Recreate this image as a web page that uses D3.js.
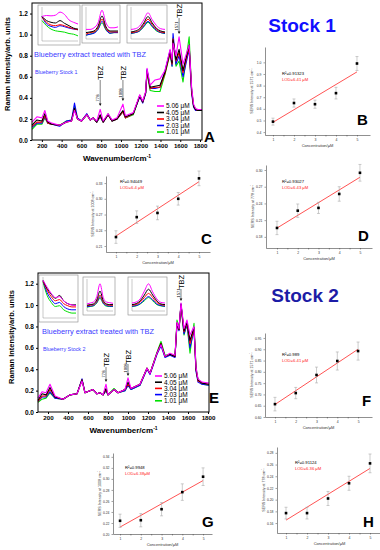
<!DOCTYPE html>
<html>
<head>
<meta charset="utf-8">
<script src="https://cdn.jsdelivr.net/npm/d3@7"></script>
<style>
  body { margin: 0; background: #fff; }
  svg { display: block; font-family: Arial, "Liberation Sans", sans-serif; }
</style>
</head>
<body>
<svg id="fig" width="380" height="550"></svg>
<script>
// ---- data ----
var concLabels = ["5.06 \u03bcM", "4.05 \u03bcM", "3.04 \u03bcM", "2.03 \u03bcM", "1.01 \u03bcM"];
var seriesColors = ["#ff00ff", "#000000", "#ff0000", "#0000ff", "#00e000"];
var wnTicks = [200, 400, 600, 800, 1000, 1200, 1400, 1600, 1800];
var intTicks = [0.0, 0.2, 0.4, 0.6, 0.8, 1.0, 1.2];

// stock 1 spectra (panel A)
var wnA = [100,150,200,230,260,300,380,450,500,530,560,600,655,690,720,755,790,820,870,910,960,1020,1045,1125,1190,1220,1250,1264,1295,1345,1395,1445,1497,1517,1527,1557,1588,1628,1690,1715,1735,1755,1780,1820];
var a506 = [0.17,0.22,0.21,0.28,0.18,0.16,0.14,0.17,0.18,0.28,0.20,0.18,0.24,0.19,0.21,0.18,0.29,0.18,0.25,0.19,0.21,0.34,0.23,0.26,0.43,0.37,0.46,0.68,0.52,0.57,0.58,0.66,0.86,0.76,0.92,0.80,0.98,0.72,0.90,0.50,0.34,0.30,0.29,0.29];
var a405 = [0.14,0.19,0.18,0.25,0.17,0.15,0.14,0.17,0.18,0.30,0.20,0.18,0.24,0.19,0.21,0.17,0.24,0.17,0.24,0.18,0.20,0.28,0.22,0.25,0.42,0.36,0.45,0.66,0.50,0.51,0.52,0.64,0.84,0.73,0.95,0.76,0.86,0.66,0.90,0.48,0.32,0.29,0.28,0.28];
var a304 = [0.13,0.17,0.17,0.23,0.16,0.15,0.14,0.17,0.18,0.30,0.20,0.18,0.24,0.19,0.21,0.17,0.23,0.17,0.24,0.18,0.20,0.27,0.21,0.25,0.42,0.36,0.45,0.65,0.49,0.50,0.50,0.63,0.83,0.72,0.96,0.75,0.83,0.64,0.88,0.46,0.32,0.29,0.28,0.28];
var a203 = [0.12,0.16,0.16,0.22,0.16,0.15,0.13,0.18,0.19,0.35,0.21,0.18,0.25,0.19,0.21,0.17,0.22,0.17,0.24,0.18,0.20,0.27,0.21,0.25,0.41,0.35,0.44,0.67,0.49,0.49,0.50,0.65,0.85,0.70,1.01,0.72,0.80,0.60,0.86,0.44,0.31,0.28,0.28,0.28];
var a101 = [0.10,0.15,0.15,0.21,0.16,0.15,0.14,0.18,0.19,0.31,0.20,0.18,0.24,0.19,0.21,0.17,0.22,0.17,0.25,0.18,0.20,0.27,0.21,0.24,0.42,0.36,0.45,0.63,0.47,0.46,0.46,0.62,0.82,0.70,0.97,0.70,0.75,0.55,0.98,0.47,0.33,0.29,0.28,0.28];

// stock 2 spectra (panel E)
var wnE = [100,140,180,220,270,350,420,490,540,570,650,690,720,750,780,800,860,900,970,1000,1030,1120,1190,1220,1290,1330,1370,1420,1470,1490,1510,1530,1560,1590,1620,1660,1680,1700,1740,1810];
var e506 = [0.13,0.19,0.18,0.26,0.15,0.12,0.16,0.17,0.29,0.18,0.21,0.17,0.18,0.16,0.26,0.16,0.21,0.18,0.21,0.32,0.22,0.26,0.41,0.36,0.55,0.63,0.52,0.55,0.53,0.84,0.78,1.02,0.78,0.86,0.72,0.80,0.42,0.31,0.28,0.27];
var e405 = [0.11,0.17,0.16,0.23,0.14,0.12,0.16,0.17,0.30,0.18,0.21,0.17,0.18,0.16,0.22,0.16,0.21,0.18,0.21,0.28,0.22,0.26,0.41,0.36,0.55,0.64,0.52,0.54,0.52,0.83,0.77,1.01,0.76,0.84,0.67,0.79,0.40,0.30,0.27,0.26];
var e304 = [0.10,0.15,0.15,0.21,0.14,0.12,0.16,0.17,0.30,0.18,0.21,0.17,0.18,0.16,0.21,0.16,0.21,0.18,0.21,0.26,0.22,0.26,0.41,0.36,0.55,0.64,0.52,0.54,0.52,0.83,0.77,1.00,0.75,0.83,0.64,0.78,0.40,0.29,0.27,0.26];
var e203 = [0.10,0.14,0.14,0.19,0.13,0.12,0.16,0.17,0.31,0.18,0.21,0.17,0.18,0.16,0.20,0.16,0.21,0.18,0.20,0.25,0.21,0.25,0.40,0.35,0.54,0.62,0.51,0.53,0.51,0.82,0.76,1.01,0.73,0.82,0.60,0.77,0.38,0.28,0.26,0.25];
var e101 = [0.09,0.12,0.13,0.18,0.13,0.12,0.16,0.17,0.30,0.18,0.21,0.17,0.18,0.16,0.20,0.16,0.22,0.18,0.20,0.25,0.21,0.25,0.41,0.36,0.56,0.66,0.53,0.54,0.52,0.86,0.79,1.00,0.72,0.82,0.55,0.83,0.42,0.30,0.26,0.25];

// zoomed insets (relative intensity, 9 points each, order 5.06 -> 1.01)
var insetA1 = [[0.72,0.75,0.74,0.76,0.85,0.78,0.62,0.55,0.50],[0.72,0.60,0.55,0.53,0.60,0.52,0.45,0.38,0.35],[0.70,0.55,0.47,0.45,0.48,0.45,0.40,0.36,0.33],[0.72,0.50,0.43,0.40,0.45,0.42,0.38,0.35,0.33],[0.60,0.45,0.35,0.30,0.28,0.26,0.22,0.20,0.15]];
var insetA2 = [[0.30,0.30,0.35,0.50,0.90,0.50,0.35,0.35,0.38],[0.20,0.22,0.25,0.40,0.72,0.38,0.25,0.25,0.25],[0.15,0.20,0.22,0.35,0.62,0.33,0.22,0.22,0.22],[0.12,0.15,0.18,0.30,0.55,0.30,0.18,0.20,0.20],[0.12,0.15,0.20,0.30,0.50,0.28,0.18,0.20,0.20]];
var insetA3 = [[0.30,0.32,0.40,0.60,0.82,0.60,0.42,0.32,0.30],[0.22,0.25,0.32,0.50,0.70,0.50,0.33,0.25,0.22],[0.20,0.22,0.28,0.45,0.62,0.45,0.30,0.22,0.20],[0.18,0.20,0.25,0.40,0.55,0.40,0.27,0.20,0.18],[0.17,0.20,0.25,0.38,0.52,0.38,0.25,0.20,0.17]];
var insetE1 = [[0.92,0.75,0.60,0.50,0.52,0.42,0.35,0.32,0.30],[0.92,0.72,0.58,0.48,0.55,0.42,0.35,0.32,0.32],[0.90,0.68,0.52,0.42,0.45,0.35,0.30,0.27,0.27],[0.90,0.62,0.45,0.35,0.38,0.28,0.22,0.20,0.20],[0.88,0.55,0.38,0.28,0.30,0.20,0.15,0.12,0.12]];
var insetE2 = [[0.22,0.25,0.28,0.45,0.85,0.42,0.28,0.26,0.24],[0.18,0.2,0.22,0.35,0.62,0.33,0.22,0.2,0.2],[0.16,0.18,0.2,0.3,0.5,0.28,0.2,0.18,0.18],[0.14,0.15,0.17,0.27,0.45,0.25,0.17,0.15,0.15],[0.12,0.14,0.16,0.25,0.4,0.23,0.15,0.14,0.14]];
var insetE3 = [[0.25,0.28,0.38,0.62,0.85,0.6,0.38,0.27,0.25],[0.2,0.23,0.32,0.5,0.68,0.5,0.32,0.22,0.2],[0.18,0.2,0.28,0.42,0.55,0.42,0.27,0.2,0.18],[0.15,0.17,0.23,0.35,0.45,0.35,0.22,0.17,0.15],[0.14,0.16,0.22,0.32,0.42,0.32,0.2,0.16,0.14]];
var insetX = [0, 1, 2, 3, 4, 5, 6, 7, 8];

// calibration points
var conc = [1, 2, 3, 4, 5];
var bVals = [0.49, 0.65, 0.64, 0.735, 0.99], bErr = [0.03, 0.035, 0.035, 0.05, 0.06];
var cVals = [0.227, 0.265, 0.273, 0.300, 0.339], cErr = [0.012, 0.012, 0.013, 0.012, 0.014];
var dVals = [0.196, 0.227, 0.232, 0.257, 0.295], dErr = [0.012, 0.012, 0.010, 0.013, 0.015];
var fVals = [0.657, 0.706, 0.786, 0.848, 0.892], fErr = [0.03, 0.025, 0.035, 0.04, 0.04];
var gVals = [0.224, 0.225, 0.245, 0.276, 0.304], gErr = [0.012, 0.012, 0.012, 0.015, 0.016];
var hVals = [0.177, 0.177, 0.202, 0.228, 0.262], hErr = [0.010, 0.010, 0.012, 0.012, 0.016];
var bTicks = [0.4, 0.5, 0.6, 0.7, 0.8, 0.9, 1.0];
var cTicks = [0.21, 0.24, 0.27, 0.30, 0.33];
var dTicks = [0.18, 0.21, 0.24, 0.27, 0.30];
var fTicks = [0.60, 0.65, 0.70, 0.75, 0.80, 0.85, 0.90, 0.95];
var gTicks = [0.20, 0.22, 0.24, 0.26, 0.28, 0.30, 0.32, 0.34];
var hTicks = [0.16, 0.18, 0.20, 0.22, 0.24, 0.26, 0.28];

var svg = d3.select("svg#fig");

function drawSpectrum(p) {
    var x = d3.scaleLinear().domain(p.xDomain).range([p.left, p.right]),
        y = d3.scaleLinear().domain([0, 1.3]).range([p.bottom, p.top]),
        g = svg.append("g");

    var xa = g.append("g")
        .attr("transform", "translate(0," + p.bottom + ")")
        .call(d3.axisBottom(x).tickValues(wnTicks).tickSize(2).tickPadding(2).tickSizeOuter(0)
            .tickFormat(d3.format("d")));
    xa.selectAll("text").style("font", "bold 6.2px Arial");
    var ya = g.append("g")
        .attr("transform", "translate(" + p.left + ",0)")
        .call(d3.axisLeft(y).tickValues(intTicks).tickSize(2).tickPadding(2).tickSizeOuter(0).tickFormat(d3.format(".1f")));
    ya.selectAll("text").style("font", "bold 6.5px Arial");
    g.selectAll(".domain").remove();

    var line = d3.line()
        .x(function (d, i) { return x(p.wn[i]); })
        .y(function (d) { return y(d); });

    p.series.slice().reverse().forEach(function (s, k) {
        g.append("path")
            .attr("d", line(s))
            .attr("fill", "none")
            .attr("stroke", seriesColors[4 - k])
            .attr("stroke-width", 1.1)
            .attr("stroke-linejoin", "round");
    });

    g.append("rect")
        .attr("x", p.left).attr("y", p.top)
        .attr("width", p.right - p.left).attr("height", p.bottom - p.top)
        .attr("fill", "none").attr("stroke", "#000").attr("stroke-width", 1);

    // insets
    p.insets.forEach(function (ins) {
        var ig = g.append("g");
        ig.append("rect")
            .attr("x", ins.box[0]).attr("y", ins.box[2])
            .attr("width", ins.box[1] - ins.box[0]).attr("height", ins.box[3] - ins.box[2])
            .attr("fill", "#fff").attr("stroke", "#888").attr("stroke-width", 0.6);
        var ix = d3.scaleLinear().domain([0, 8]).range([ins.box[0] + 4, ins.box[1] - 2]),
            iy = d3.scaleLinear().domain([0, 1]).range([ins.box[3] - 4, ins.box[2] + 2]);
        ig.append("line")
            .attr("x1", ix(0)).attr("x2", ix(0)).attr("y1", iy(0)).attr("y2", iy(1))
            .attr("stroke", "#777").attr("stroke-width", 0.4);
        ig.append("line")
            .attr("x1", ix(0)).attr("x2", ix(8)).attr("y1", iy(0)).attr("y2", iy(0))
            .attr("stroke", "#777").attr("stroke-width", 0.4);
        var il = d3.line().curve(d3.curveMonotoneX)
            .x(function (d, i) { return ix(insetX[i]); })
            .y(function (d) { return iy(d); });
        ins.data.slice().reverse().forEach(function (s, k) {
            ig.append("path").attr("d", il(s)).attr("fill", "none")
                .attr("stroke", seriesColors[4 - k]).attr("stroke-width", 1);
        });
    });

    // captions
    g.append("text").attr("x", p.capX).attr("y", p.capY)
        .attr("fill", "#3a3aff").style("font", "7.4px Arial")
        .text("Blueberry extract treated with TBZ");
    g.append("text").attr("x", p.capX + 1).attr("y", p.capY + 17)
        .attr("fill", "#3a3aff").style("font", "5.4px Arial")
        .text(p.stockText);

    // TBZ arrows
    p.marks.forEach(function (m) {
        var mx = x(m.wn);
        g.append("line").attr("x1", mx).attr("x2", mx).attr("y1", m.y1).attr("y2", m.y2 - 2)
            .attr("stroke", "#000").attr("stroke-width", 0.5);
        g.append("path")
            .attr("d", "M" + (mx - 1.3) + "," + (m.y2 - 2.5) + "L" + (mx + 1.3) + "," + (m.y2 - 2.5) + "L" + mx + "," + m.y2 + "Z")
            .attr("fill", "#000");
        g.append("text")
            .attr("transform", "translate(" + (mx + 2.6) + "," + (m.y1 - 7) + ") rotate(-90)")
            .attr("text-anchor", "middle").style("font", "7.5px Arial")
            .text("TBZ");
        g.append("text")
            .attr("transform", "translate(" + (mx - 1.2) + "," + (m.y2 - 8) + ") rotate(-90)")
            .attr("text-anchor", "middle").style("font", "4.2px Arial")
            .text(m.label);
    });

    // legend
    concLabels.forEach(function (c, i) {
        var ly = p.legY + i * p.legStep;
        g.append("line").attr("x1", p.legX).attr("x2", p.legX + 7).attr("y1", ly).attr("y2", ly)
            .attr("stroke", seriesColors[i]).attr("stroke-width", 1.6);
        g.append("text").attr("x", p.legX + 9).attr("y", ly + 2.3)
            .style("font", "6.5px Arial").text(c);
    });

    // axis titles and panel letter
    var xt = g.append("text").attr("x", (p.left + p.right) / 2).attr("y", p.bottom + 21)
        .attr("text-anchor", "middle").style("font", "bold 8px Arial").text("Wavenumber/cm");
    xt.append("tspan").attr("dy", -3).style("font-size", "5px").text("-1");
    g.append("text")
        .attr("transform", "translate(" + p.yLabX + "," + p.yLabY + ") rotate(-90)")
        .attr("text-anchor", "middle").style("font", "bold 7.5px Arial")
        .text("Raman Intensity/arb. units");
    g.append("text").attr("x", p.letX).attr("y", p.letY)
        .style("font", "bold 15px Arial").text(p.letter);
}

function drawCalib(p) {
    var x = d3.scaleLinear().domain(p.xDomain).range([p.x0, p.x1]),
        y = d3.scaleLinear().domain(p.yDomain).range([p.y0, p.y1]),
        g = svg.append("g");

    var xa = g.append("g").attr("transform", "translate(0," + p.y0 + ")")
        .call(d3.axisBottom(x).tickValues([1, 1.5, 2, 2.5, 3, 3.5, 4, 4.5, 5])
            .tickSize(1.5).tickPadding(2).tickSizeOuter(0)
            .tickFormat(function (d) { return d % 1 === 0 ? d : ""; }));
    var ya = g.append("g").attr("transform", "translate(" + p.x0 + ",0)")
        .call(d3.axisLeft(y).tickValues(p.ticks).tickSize(1.5).tickPadding(2).tickSizeOuter(0)
            .tickFormat(d3.format(p.fmt)));
    g.selectAll(".domain").attr("stroke", "#444").attr("stroke-width", 0.6);
    g.selectAll(".tick line").attr("stroke", "#444").attr("stroke-width", 0.5);
    g.selectAll(".tick text").style("font", "3.4px Arial").attr("fill", "#333");

    // least squares line
    var mx = d3.mean(conc), my = d3.mean(p.vals),
        slope = d3.sum(conc, function (c, i) { return (c - mx) * (p.vals[i] - my); }) /
                d3.sum(conc, function (c) { return (c - mx) * (c - mx); }),
        icpt = my - slope * mx;
    g.append("line")
        .attr("x1", x(1)).attr("y1", y(icpt + slope))
        .attr("x2", x(5)).attr("y2", y(icpt + slope * 5))
        .attr("stroke", "#ff4040").attr("stroke-width", 0.9);

    conc.forEach(function (c, i) {
        var cx = x(c), lo = y(p.vals[i] - p.err[i]), hi = y(p.vals[i] + p.err[i]);
        g.append("line").attr("x1", cx).attr("x2", cx).attr("y1", lo).attr("y2", hi)
            .attr("stroke", "#aaa").attr("stroke-width", 0.6);
        [lo, hi].forEach(function (yy) {
            g.append("line").attr("x1", cx - 1.5).attr("x2", cx + 1.5).attr("y1", yy).attr("y2", yy)
                .attr("stroke", "#aaa").attr("stroke-width", 0.6);
        });
        g.append("rect").attr("x", cx - 1.3).attr("y", y(p.vals[i]) - 1.3)
            .attr("width", 2.6).attr("height", 2.6).attr("fill", "#000");
    });

    g.append("text").attr("x", p.tx).attr("y", p.ty).style("font", "4.2px Arial").text(p.r2);
    g.append("text").attr("x", p.tx).attr("y", p.ty + 5.5).attr("fill", "#ff2020")
        .style("font", "4.2px Arial").text(p.lod);
    g.append("text").attr("x", (p.x0 + p.x1) / 2).attr("y", p.y0 + 12)
        .attr("text-anchor", "middle").attr("fill", "#333").style("font", "4px Arial")
        .text("Concentration/\u03bcM");
    var yl = g.append("text")
        .attr("transform", "translate(" + (p.x0 - 12) + "," + ((p.y0 + p.y1) / 2) + ") rotate(-90)")
        .attr("text-anchor", "middle").attr("fill", "#333").style("font", "3.6px Arial")
        .text(p.yLabel);
    yl.append("tspan").attr("dy", -1.2).style("font-size", "2.6px").text("-1");
    g.append("text").attr("x", p.letX).attr("y", p.letY)
        .style("font", "bold 15px Arial").text(p.letter);
}

drawSpectrum({
    xDomain: [100, 1820], left: 32, right: 202, top: 3, bottom: 140,
    wn: wnA, series: [a506, a405, a304, a203, a101],
    insets: [
        { box: [38, 80, 5, 45], data: insetA1 },
        { box: [82, 120, 5, 43], data: insetA2 },
        { box: [127, 167, 5, 43], data: insetA3 }
    ],
    capX: 34, capY: 57, stockText: "Blueberry Stock 1",
    marks: [
        { wn: 790, label: "778", y1: 80, y2: 106 },
        { wn: 1020, label: "1008", y1: 80, y2: 101 },
        { wn: 1588, label: "1571", y1: 18, y2: 34 }
    ],
    legX: 157, legY: 106, legStep: 6.5,
    yLabX: 10, yLabY: 64, letX: 204, letY: 142, letter: "A"
});

drawSpectrum({
    xDomain: [100, 1810], left: 38, right: 209, top: 273, bottom: 412,
    wn: wnE, series: [e506, e405, e304, e203, e101],
    insets: [
        { box: [39, 78, 275, 322], data: insetE1 },
        { box: [83, 115, 277, 315], data: insetE2 },
        { box: [128, 167, 277, 315], data: insetE3 }
    ],
    capX: 42, capY: 334, stockText: "Blueberry Stock 2",
    marks: [
        { wn: 780, label: "778", y1: 367, y2: 382 },
        { wn: 1000, label: "1008", y1: 364, y2: 376 },
        { wn: 1530, label: "1571", y1: 289, y2: 301 }
    ],
    legX: 155, legY: 376, legStep: 6.2,
    yLabX: 14, yLabY: 337, letX: 209, letY: 403, letter: "E"
});

var calibPanels = [
    { letter: "B", x0: 265, x1: 370, xDomain: [0.62, 5.62], y0: 135, y1: 47, yDomain: [0.375, 1.132],
      vals: bVals, err: bErr, ticks: bTicks, fmt: ".1f", tx: 282, ty: 75,
      r2: "R\u00b2=0.91323", lod: "LOD=6.41 \u03bcM", yLabel: "SERS Intensity at 1571 cm", letX: 357, letY: 125 },
    { letter: "C", x0: 106, x1: 210, xDomain: [0.52, 5.53], y0: 252, y1: 176, yDomain: [0.1985, 0.3435],
      vals: cVals, err: cErr, ticks: cTicks, fmt: ".2f", tx: 120, ty: 183,
      r2: "R\u00b2=0.94049", lod: "LOD=6.4 \u03bcM", yLabel: "SERS Intensity at 1008 cm", letX: 201, letY: 244 },
    { letter: "D", x0: 266, x1: 372, xDomain: [0.47, 5.58], y0: 248, y1: 165, yDomain: [0.160, 0.309],
      vals: dVals, err: dErr, ticks: dTicks, fmt: ".2f", tx: 282, ty: 183,
      r2: "R\u00b2=0.93027", lod: "LOD=6.43 \u03bcM", yLabel: "SERS Intensity at 778 cm", letX: 358, letY: 241 },
    { letter: "F", x0: 265, x1: 372, xDomain: [0.52, 5.67], y0: 417, y1: 333, yDomain: [0.60, 0.972],
      vals: fVals, err: fErr, ticks: fTicks, fmt: ".2f", tx: 282, ty: 356,
      r2: "R\u00b2=0.989", lod: "LOD=6.41 \u03bcM", yLabel: "SERS Intensity at 1571 cm", letX: 362, letY: 406 },
    { letter: "G", x0: 113, x1: 212, xDomain: [0.66, 5.43], y0: 534, y1: 453, yDomain: [0.20, 0.347],
      vals: gVals, err: gErr, ticks: gTicks, fmt: ".2f", tx: 125, ty: 469,
      r2: "R\u00b2=0.9948", lod: "LOD=6.38\u03bcM", yLabel: "SERS Intensity at 1008 cm", letX: 202, letY: 527 },
    { letter: "H", x0: 277, x1: 382, xDomain: [0.57, 5.57], y0: 533, y1: 447, yDomain: [0.143, 0.290],
      vals: hVals, err: hErr, ticks: hTicks, fmt: ".2f", tx: 295, ty: 464,
      r2: "R\u00b2=0.91124", lod: "LOD=6.36 \u03bcM", yLabel: "SERS Intensity at 778 cm", letX: 363, letY: 527 }
];
calibPanels.forEach(drawCalib);

svg.append("text").attr("x", 302).attr("y", 32).attr("text-anchor", "middle")
    .attr("fill", "#1010ff").style("font", "bold 19px Arial").text("Stock 1");
svg.append("text").attr("x", 305).attr("y", 302).attr("text-anchor", "middle")
    .attr("fill", "#1c1ca6").style("font", "bold 19px Arial").text("Stock 2");
</script>
</body>
</html>
